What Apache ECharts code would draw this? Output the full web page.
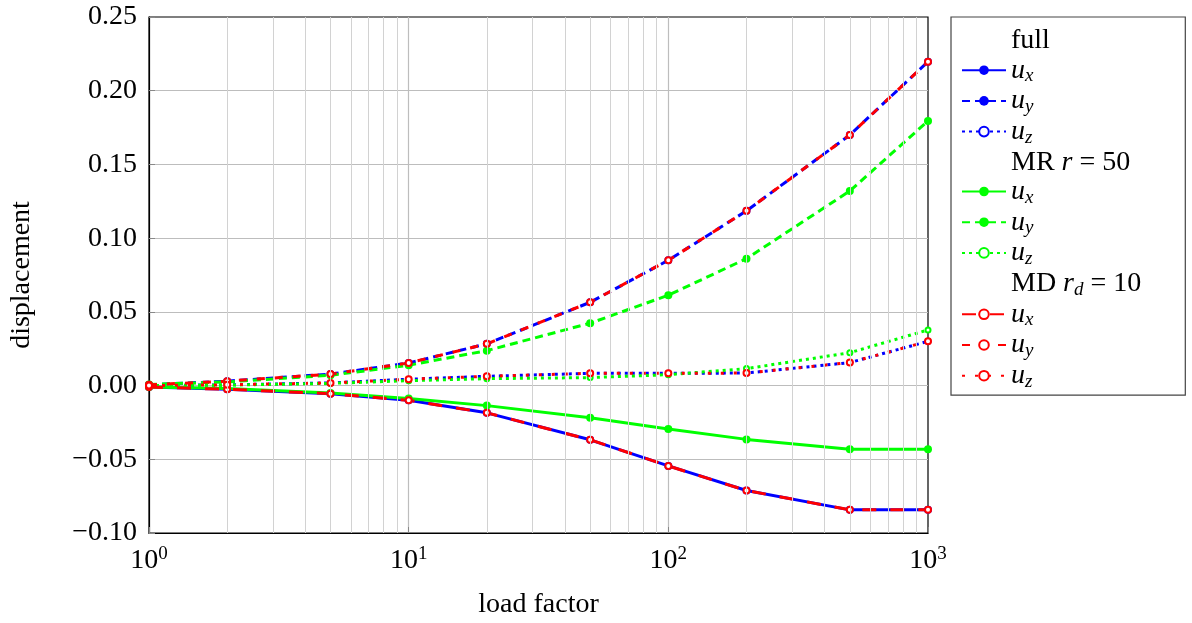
<!DOCTYPE html>
<html>
<head>
<meta charset="utf-8">
<script src="https://cdn.jsdelivr.net/npm/echarts@6/dist/echarts.min.js"></script>
<style>
  html, body { margin: 0; padding: 0; background: #fff; }
  #chart { width: 1192px; height: 623px; }
</style>
</head>
<body>
<div id="chart"></div>
<script>
// load steps (x values)
var loads = [1, 2, 5, 10, 20, 50, 100, 200, 500, 1000]

// full model
var fullUx = [-0.001, -0.0025, -0.0055, -0.010, -0.0185, -0.0368, -0.0545, -0.0712, -0.0843, -0.0843]
var fullUy = [0.0005, 0.003, 0.0078, 0.0153, 0.0283, 0.0565, 0.085, 0.1185, 0.170, 0.2197]
var fullUz = [0.0, 0.0005, 0.0018, 0.0043, 0.0063, 0.0083, 0.0083, 0.0085, 0.0156, 0.030]

// MR r = 50
var mrUx = [-0.001, -0.002, -0.005, -0.0087, -0.0136, -0.0218, -0.0295, -0.0365, -0.0432, -0.0432]
var mrUy = [0.0008, 0.0025, 0.007, 0.0138, 0.0237, 0.0423, 0.0613, 0.0861, 0.132, 0.1795]
var mrUz = [0.0, 0.0003, 0.0015, 0.0033, 0.0047, 0.0054, 0.0074, 0.0115, 0.0223, 0.0377]

// MD r_d = 10
var mdUx = [-0.001, -0.0025, -0.0055, -0.010, -0.0185, -0.0368, -0.0545, -0.0712, -0.0843, -0.0843]
var mdUy = [0.0005, 0.003, 0.0078, 0.0153, 0.0283, 0.0565, 0.085, 0.1185, 0.170, 0.2197]
var mdUz = [0.0, 0.0005, 0.0018, 0.0043, 0.0063, 0.0083, 0.0083, 0.0085, 0.0156, 0.030]

// minor log grid positions
var minorGrid = [2, 3, 4, 5, 6, 7, 8, 9, 20, 30, 40, 50, 60, 70, 80, 90, 200, 300, 400, 500, 600, 700, 800, 900]

var FONT = 'Liberation Serif'
var BLUE = '#0000ff'
var GREEN = '#00ff00'
var RED = '#ff0000'

function pairs(ys) {
  var out = []
  for (var i = 0; i < loads.length; i++) {
    out.push([loads[i], ys[i]])
  }
  return out
}

function makeSeries(name, ys, color, dash, symbol, symbolSize, borderW) {
  return {
    name: name,
    type: 'line',
    data: pairs(ys),
    clip: false,
    symbol: symbol,
    symbolSize: symbolSize,
    showSymbol: true,
    lineStyle: { color: color, width: 3, type: dash },
    itemStyle: { color: color, borderColor: color, borderWidth: borderW },
    emphasis: { disabled: true },
    z: 3
  }
}

function heading(name) {
  return { name: name, type: 'line', data: [], symbol: 'none', lineStyle: { width: 0, opacity: 0 }, itemStyle: { opacity: 0 } }
}

var labelMap = {
  'full': 'full',
  'MR': 'MR {i|r} = 50',
  'MD': 'MD {i|r}{sub|d} = 10',
  'full ux': '{i|u}{sub|x}', 'full uy': '{i|u}{sub|y}', 'full uz': '{i|u}{sub|z}',
  'MR ux': '{i|u}{sub|x}', 'MR uy': '{i|u}{sub|y}', 'MR uz': '{i|u}{sub|z}',
  'MD ux': '{i|u}{sub|x}', 'MD uy': '{i|u}{sub|y}', 'MD uz': '{i|u}{sub|z}'
}

var chart = echarts.init(document.getElementById('chart'))

var option = {
  animation: false,
  backgroundColor: '#fff',
  textStyle: { fontFamily: FONT },
  grid: { left: 149, right: 264, top: 17, bottom: 90, show: true, borderColor: '#000', borderWidth: 1.2, outerBoundsMode: 'none', containLabel: false },
  legend: {
    orient: 'vertical',
    left: 951,
    top: 17,
    padding: [10, 44, 4, 10],
    itemWidth: 44,
    itemHeight: 12,
    itemGap: 1.2,
    borderColor: '#444',
    borderWidth: 1.2,
    selectedMode: false,
    data: ['full', 'full ux', 'full uy', 'full uz', 'MR', 'MR ux', 'MR uy', 'MR uz', 'MD', 'MD ux', 'MD uy', 'MD uz'],
    formatter: function(n) { return labelMap[n] },
    textStyle: {
      fontFamily: FONT,
      fontSize: 28,
      color: '#000',
      lineHeight: 26,
      rich: {
        i: { fontFamily: FONT, fontSize: 28, fontStyle: 'italic', color: '#000' },
        sub: { fontFamily: FONT, fontSize: 19, fontStyle: 'italic', color: '#000', padding: [12, 0, 0, 0] }
      }
    }
  },
  xAxis: [{
    type: 'log',
    logBase: 10,
    min: 1,
    max: 1000,
    name: 'load factor',
    nameLocation: 'middle',
    nameGap: 58,
    nameTextStyle: { fontFamily: FONT, fontSize: 28, color: '#000' },
    axisLine: { show: true, onZero: false, lineStyle: { color: '#000', width: 1.2 } },
    axisTick: { show: true, inside: true, length: 6, lineStyle: { color: '#888' } },
    splitLine: { show: true, showMinLine: false, showMaxLine: false, lineStyle: { color: '#bdbdbd', width: 1.2 } },
    axisLabel: {
      margin: 12,
      color: '#000',
      fontFamily: FONT,
      fontSize: 28,
      formatter: function(v) { return '10{sup|' + Math.round(Math.log10(v)) + '}' },
      rich: { sup: { fontFamily: FONT, fontSize: 19, color: '#000', padding: [0, 0, 12, 0] } }
    }
  }],
  yAxis: [{
    type: 'value',
    min: -0.10,
    max: 0.25,
    interval: 0.05,
    name: 'displacement',
    nameLocation: 'middle',
    nameGap: 113,
    nameTextStyle: { fontFamily: FONT, fontSize: 28, color: '#000' },
    axisLine: { show: true, onZero: false, lineStyle: { color: '#000', width: 1.2 } },
    axisTick: { show: true, inside: true, length: 6, lineStyle: { color: '#888' } },
    splitLine: { show: true, showMinLine: false, showMaxLine: false, lineStyle: { color: '#bdbdbd', width: 1.2 } },
    axisLabel: {
      margin: 12,
      color: '#000',
      fontFamily: FONT,
      fontSize: 28,
      formatter: function(v) {
        var s = Math.abs(v) < 1e-9 ? '0.00' : v.toFixed(2)
        return s.replace('-', '\u2212')
      }
    }
  }],
  series: [
    {
      name: 'minor grid',
      type: 'line',
      data: [],
      silent: true,
      z: 1,
      markLine: {
        silent: true,
        symbol: 'none',
        label: { show: false },
        animation: false,
        lineStyle: { color: '#d2d2d2', width: 1, type: 'solid' },
        emphasis: { disabled: true },
        data: minorGrid.map(function(v) { return { xAxis: v } })
      }
    },
    heading('full'),
    makeSeries('full ux', fullUx, BLUE, 'solid', 'circle', 8, 0),
    makeSeries('full uy', fullUy, BLUE, [8, 5], 'circle', 8, 0),
    makeSeries('full uz', fullUz, BLUE, [3, 4], 'emptyCircle', 5, 2.5),
    heading('MR'),
    makeSeries('MR ux', mrUx, GREEN, 'solid', 'circle', 8, 0),
    makeSeries('MR uy', mrUy, GREEN, [8, 5], 'circle', 8, 0),
    makeSeries('MR uz', mrUz, GREEN, [3, 4], 'emptyCircle', 5, 2.5),
    heading('MD'),
    makeSeries('MD ux', mdUx, RED, [14, 14], 'emptyCircle', 6, 4.2),
    makeSeries('MD uy', mdUy, RED, [8, 10], 'emptyCircle', 6, 4.2),
    makeSeries('MD uz', mdUz, RED, [3, 10], 'emptyCircle', 6, 4.2)
  ]
}

chart.setOption(option)
</script>
</body>
</html>
